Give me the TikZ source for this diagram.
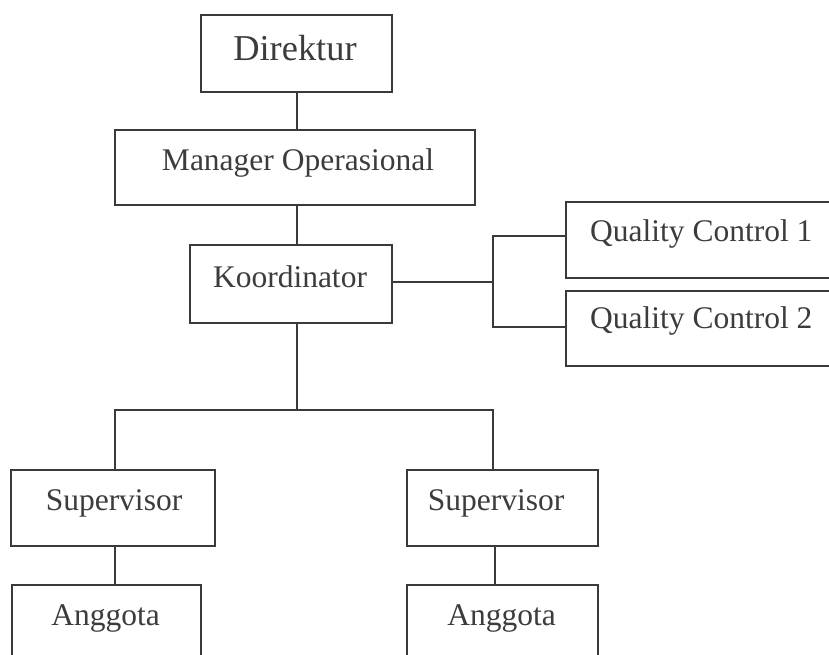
\documentclass[tikz,border=0pt]{standalone}
\usepackage{fontspec}
\setmainfont{Liberation Serif}
\definecolor{linec}{RGB}{58,58,58}
\definecolor{textc}{RGB}{60,60,60}
\begin{document}
\begin{tikzpicture}[x=1pt,y=-1pt,
  box/.style={draw=linec, line width=2pt, rectangle, inner sep=0pt, minimum width=#1},
  conn/.style={draw=linec, line width=2pt},
  lbl/.style={text=textc, inner sep=0pt, anchor=base, font=\fontsize{31.5}{36}\selectfont},
  lblw/.style={lbl, anchor=base west}]
\useasboundingbox (0,0) rectangle (829,654);
\clip (0,0) rectangle (829,654);
\fill[white] (0,0) rectangle (829,654);

% boxes
\node[box=191pt, minimum height=77pt] (dir) at (296.5,53.5) {};
\node[box=360pt, minimum height=75pt] (man) at (295,167.5) {};
\node[box=202pt, minimum height=78pt] (koor) at (291,284) {};
\node[box=274pt, minimum height=76pt] (qc1) at (703,240) {};
\node[box=274pt, minimum height=75pt] (qc2) at (703,328.5) {};
\node[box=204pt, minimum height=76pt] (sup1) at (113,508) {};
\node[box=191pt, minimum height=76pt] (sup2) at (502.5,508) {};
\node[box=189pt, minimum height=76pt] (ang1) at (106.5,623) {};
\node[box=191pt, minimum height=76pt] (ang2) at (502.5,623) {};

% labels
\node[lbl, font=\fontsize{36.4}{40}\selectfont] (tdir) at (295,60) {Direktur};
\node[lbl] (tman) at (298,170) {Manager Operasional};
\node[lbl] (tkoor) at (290,287.3) {Koordinator};
\node[lblw] (tqc1) at (590,241.7) {Quality Control 1};
\node[lblw] (tqc2) at (590,328.3) {Quality Control 2};
\node[lbl] (tsup1) at (114,510) {Supervisor};
\node[lbl] (tsup2) at (496,510) {Supervisor};
\node[lbl] (tang1) at (105.5,625) {Anggota};
\node[lbl] (tang2) at (501.7,625) {Anggota};

% connectors
\coordinate (br) at (493,282);
\coordinate (hb) at (297,410);
\draw[conn] ([xshift=0.5pt]dir.south) -- ([xshift=0.5pt]dir.south |- man.north);
\draw[conn] ([xshift=0.5pt]dir.south |- man.south) -- ([xshift=0.5pt]dir.south |- koor.north);
\draw[conn] ([yshift=2pt]koor.east) -- ([yshift=2pt]koor.east -| br);
\draw[conn] ([yshift=4pt]qc1.west) -| (br) |- ([yshift=1.5pt]qc2.west);
\draw[conn] ([xshift=0.5pt]dir.south |- koor.south) -- (hb);
\draw[conn] ([xshift=2pt]sup1.north) |- (hb) -| ([xshift=-9.5pt]sup2.north);
\draw[conn] ([xshift=2pt]sup1.south) -- ([xshift=2pt]sup1.south |- ang1.north);
\draw[conn] ([xshift=-7.5pt]sup2.south) -- ([xshift=-7.5pt]sup2.south |- ang2.north);
\end{tikzpicture}
\end{document}
